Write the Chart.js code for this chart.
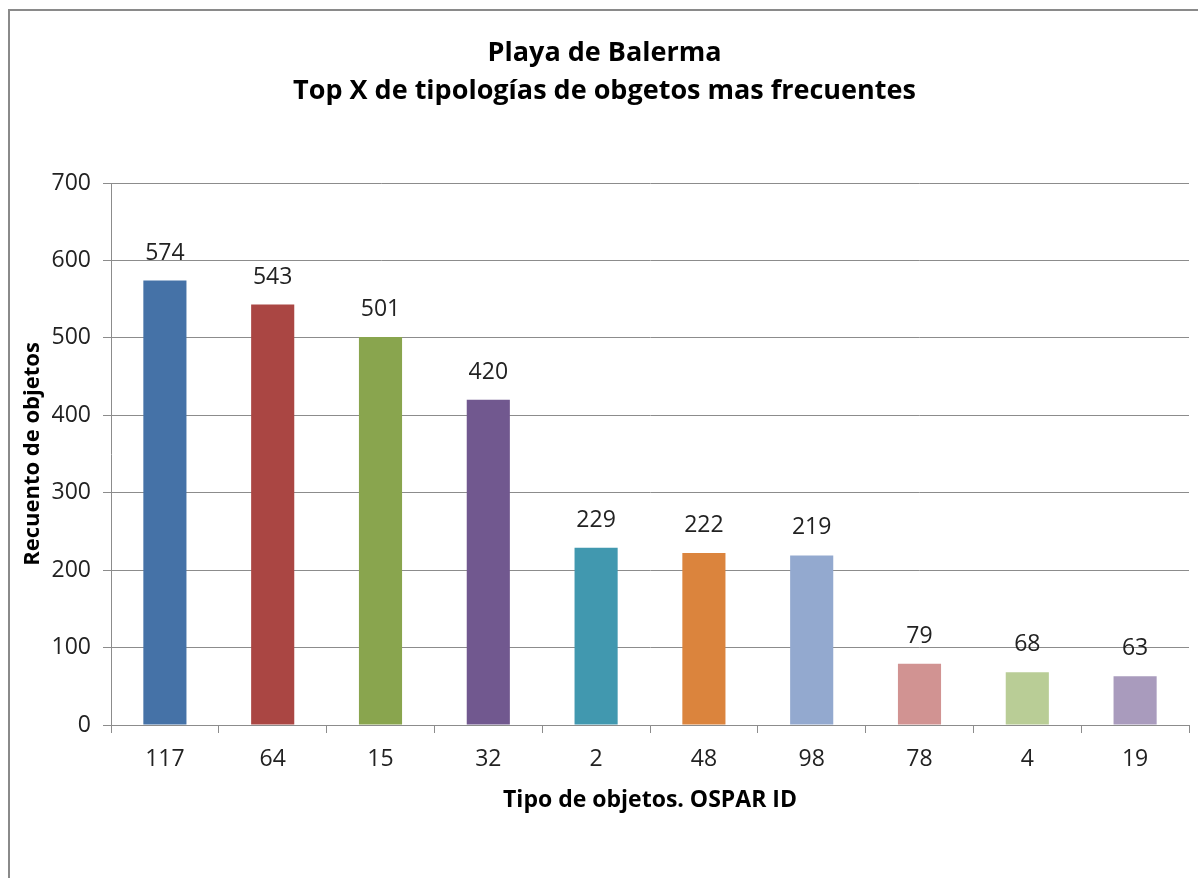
<!DOCTYPE html>
<html>
<head>
<meta charset="utf-8">
<script src="https://cdn.jsdelivr.net/npm/chart.js@4.4.1/dist/chart.umd.min.js"></script>
<style>
  html, body { margin: 0; padding: 0; background: #fff; overflow: hidden; }
  #wrap { position: relative; width: 1198px; height: 878px; }
  #frame { position: absolute; left: 8px; top: 9px; width: 1300px; height: 1000px;
           border-left: 2px solid #8a8a8a; border-top: 2px solid #8a8a8a; box-sizing: border-box; }
  canvas { position: absolute; left: 0; top: 0; }
</style>
</head>
<body>
<div id="wrap">
  <div id="frame"></div>
  <canvas id="c" width="1198" height="878"></canvas>
</div>
<script>
const titleLines = ["Playa de Balerma", "Top X de tipologías de obgetos mas frecuentes"];
const categories = ["117", "64", "15", "32", "2", "48", "98", "78", "4", "19"];
const counts = [574, 543, 501, 420, 229, 222, 219, 79, 68, 63];
const barColors = ["#4572A7", "#AA4643", "#89A54E", "#71588F", "#4198AF",
                   "#DB843D", "#93A9CF", "#D19392", "#B9CD96", "#A99BBD"];
const yTicks = [0, 100, 200, 300, 400, 500, 600, 700];
const xTitle = "Tipo de objetos. OSPAR ID";
const yTitle = "Recuento de objetos";

const FONT = "'Open Sans'";
const gridColor = "#8c8c8c";

const valueLabels = {
  id: 'valueLabels',
  afterDatasetsDraw(chart) {
    const ctx = chart.ctx;
    const meta = chart.getDatasetMeta(0);
    ctx.save();
    ctx.font = "23px " + FONT;
    ctx.fillStyle = "#222";
    ctx.textAlign = "center";
    ctx.textBaseline = "alphabetic";
    meta.data.forEach((bar, i) => {
      ctx.fillText(String(counts[i]), bar.x, bar.y - 21);
    });
    ctx.restore();
  }
};

new Chart(document.getElementById('c'), {
  type: 'bar',
  data: {
    labels: categories,
    datasets: [{
      data: counts,
      backgroundColor: barColors,
      borderWidth: 0,
      barPercentage: 0.4,
      categoryPercentage: 1.0
    }]
  },
  options: {
    responsive: false,
    animation: false,
    devicePixelRatio: 1,
    layout: { padding: { left: 20, right: 9, top: 0, bottom: 64 } },
    plugins: {
      legend: { display: false },
      tooltip: { enabled: false },
      title: {
        display: true,
        text: titleLines,
        color: "#000",
        font: { family: FONT, size: 27, weight: 'bold', lineHeight: 38 / 27 },
        padding: { top: 34, bottom: 73 }
      }
    },
    scales: {
      x: {
        afterFit(scale) { scale.height = 89; },
        grid: { display: true, drawOnChartArea: false, color: gridColor, tickLength: 8, offset: true },
        border: { display: true, color: gridColor, width: 1 },
        ticks: { color: "#222", font: { family: FONT, size: 23 }, padding: 13, maxRotation: 0 },
        title: { display: true, text: xTitle, color: "#000",
                 font: { family: FONT, size: 23, weight: 'bold' }, padding: { top: 8, bottom: 0 } }
      },
      y: {
        min: 0, max: 700,
        afterBuildTicks(scale) { scale.ticks = yTicks.map(v => ({ value: v })); },
        afterFit(scale) { scale.width = 91; },
        grid: { display: true, color: gridColor, tickLength: 8, lineWidth: 1 },
        border: { display: true, color: gridColor, width: 1 },
        ticks: { color: "#222", font: { family: FONT, size: 23 }, padding: 12 },
        title: { display: true, text: yTitle, color: "#000",
                 font: { family: FONT, size: 22, weight: 'bold' }, padding: { top: 0, bottom: 0 } }
      }
    }
  },
  plugins: [valueLabels]
});
</script>
</body>
</html>
